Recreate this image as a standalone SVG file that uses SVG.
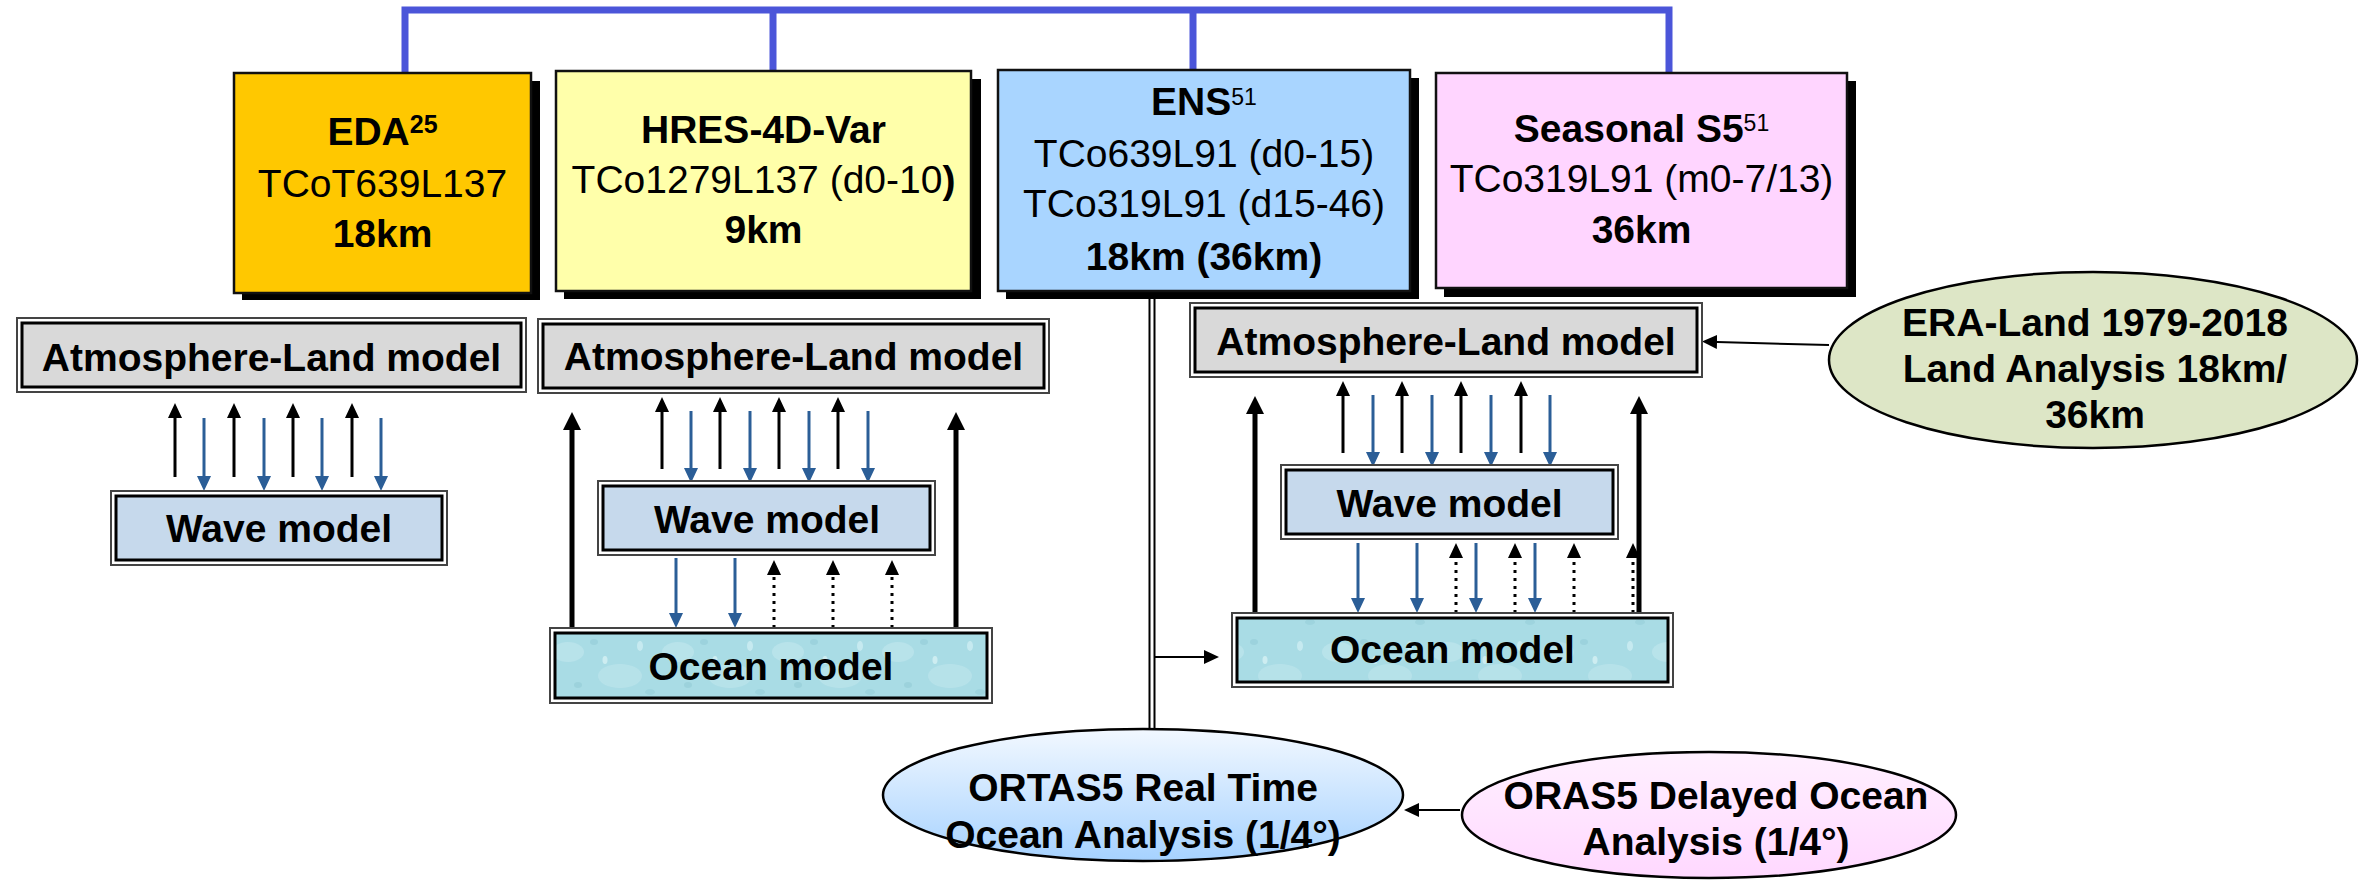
<svg xmlns="http://www.w3.org/2000/svg" width="2365" height="883" viewBox="0 0 2365 883">
<style>
text{font-family:"Liberation Sans",Arial,Helvetica,sans-serif;font-size:39px;fill:#000;text-anchor:middle}
.b{font-weight:bold}
.shadow{fill:#000}
.top{stroke:#111;stroke-width:2.5}
.outer{fill:#fff;stroke:#444;stroke-width:2}
.inner{stroke:#000;stroke-width:3}
.atm{fill:#D9D9D9}
.wave{fill:#C6D9EC}
.ocean{fill:url(#water)}
.k{stroke:#000;stroke-width:3;fill:none}
.bl{stroke:#2B5E97;stroke-width:3;fill:none}
.dot{stroke:#000;stroke-width:3;stroke-dasharray:3 5;fill:none}
.big{stroke:#000;stroke-width:5;fill:none}
.thin{stroke:#000;stroke-width:2;fill:none}
.brk{stroke:#4B55D9;stroke-width:7;fill:none}
.ell{stroke:#000;stroke-width:2.5}
.sup{font-size:23px;font-weight:normal}
</style>
<defs>
<marker id="hk" markerUnits="userSpaceOnUse" markerWidth="16" markerHeight="16" viewBox="0 -8 16 16" refX="0" refY="0" orient="auto"><path d="M0,-7 L15,0 L0,7 z" fill="#000"/></marker>
<marker id="hb" markerUnits="userSpaceOnUse" markerWidth="16" markerHeight="16" viewBox="0 -8 16 16" refX="0" refY="0" orient="auto"><path d="M0,-7 L15,0 L0,7 z" fill="#2B5E97"/></marker>
<marker id="hbig" markerUnits="userSpaceOnUse" markerWidth="20" markerHeight="20" viewBox="0 -10 20 20" refX="0" refY="0" orient="auto"><path d="M0,-9 L18,0 L0,9 z" fill="#000"/></marker>
<marker id="ht" markerUnits="userSpaceOnUse" markerWidth="16" markerHeight="16" viewBox="0 -8 16 16" refX="0" refY="0" orient="auto"><path d="M0,-7 L15,0 L0,7 z" fill="#000"/></marker>
<pattern id="water" patternUnits="userSpaceOnUse" width="110" height="70">
<rect width="110" height="70" fill="#A9DCE5"/>
<ellipse cx="18" cy="22" rx="16" ry="10" fill="#BFE6ED" opacity="0.7"/>
<ellipse cx="70" cy="46" rx="22" ry="12" fill="#BCE5EC" opacity="0.7"/>
<ellipse cx="44" cy="12" rx="4" ry="3" fill="#92CCD7" opacity="0.6"/>
<ellipse cx="90" cy="16" rx="3" ry="5" fill="#CDEEF2" opacity="0.8"/>
<ellipse cx="28" cy="55" rx="4" ry="3" fill="#93CBD6" opacity="0.6"/>
<ellipse cx="55" cy="30" rx="2.5" ry="4" fill="#D6F1F4" opacity="0.8"/>
<ellipse cx="100" cy="62" rx="5" ry="3" fill="#96CED8" opacity="0.6"/>
</pattern>
<linearGradient id="gOrtas" x1="0" y1="0" x2="0" y2="1"><stop offset="0" stop-color="#F2F8FF"/><stop offset="1" stop-color="#A6D2FF"/></linearGradient>
<linearGradient id="gOras" x1="0" y1="0" x2="0" y2="1"><stop offset="0" stop-color="#FFF0FF"/><stop offset="1" stop-color="#FFD8FF"/></linearGradient>
</defs>

<g id="connectors">
<path class="brk" d="M405,76 V10 H1669 V73 M773,10 V73 M1193,10 V73"/>
<line class="thin" x1="1149.5" y1="299" x2="1149.5" y2="733"/>
<line class="thin" x1="1154.5" y1="299" x2="1154.5" y2="733"/>
<line class="thin" x1="1155" y1="657" x2="1204" y2="657" marker-end="url(#ht)"/>
<line class="thin" x1="1829" y1="345" x2="1717" y2="342" marker-end="url(#ht)"/>
<line class="thin" x1="1460" y1="810" x2="1419" y2="810" marker-end="url(#ht)"/>
<!-- left section -->
<line class="k" x1="175" y1="477" x2="175" y2="418" marker-end="url(#hk)"/>
<line class="k" x1="234" y1="477" x2="234" y2="418" marker-end="url(#hk)"/>
<line class="k" x1="293" y1="477" x2="293" y2="418" marker-end="url(#hk)"/>
<line class="k" x1="352" y1="477" x2="352" y2="418" marker-end="url(#hk)"/>
<line class="bl" x1="204" y1="418" x2="204" y2="476" marker-end="url(#hb)"/>
<line class="bl" x1="264" y1="418" x2="264" y2="476" marker-end="url(#hb)"/>
<line class="bl" x1="322" y1="418" x2="322" y2="476" marker-end="url(#hb)"/>
<line class="bl" x1="381" y1="418" x2="381" y2="476" marker-end="url(#hb)"/>
<!-- middle section -->
<line class="big" x1="572" y1="630" x2="572" y2="430" marker-end="url(#hbig)"/>
<line class="big" x1="956" y1="630" x2="956" y2="430" marker-end="url(#hbig)"/>
<line class="k" x1="662" y1="469" x2="662" y2="412" marker-end="url(#hk)"/>
<line class="k" x1="720" y1="469" x2="720" y2="412" marker-end="url(#hk)"/>
<line class="k" x1="779" y1="469" x2="779" y2="412" marker-end="url(#hk)"/>
<line class="k" x1="838" y1="469" x2="838" y2="412" marker-end="url(#hk)"/>
<line class="bl" x1="691" y1="411" x2="691" y2="468" marker-end="url(#hb)"/>
<line class="bl" x1="750" y1="411" x2="750" y2="468" marker-end="url(#hb)"/>
<line class="bl" x1="809" y1="411" x2="809" y2="468" marker-end="url(#hb)"/>
<line class="bl" x1="868" y1="411" x2="868" y2="468" marker-end="url(#hb)"/>
<line class="bl" x1="676" y1="558" x2="676" y2="613" marker-end="url(#hb)"/>
<line class="bl" x1="735" y1="558" x2="735" y2="613" marker-end="url(#hb)"/>
<line class="dot" x1="774" y1="628" x2="774" y2="575" marker-end="url(#hk)"/>
<line class="dot" x1="833" y1="628" x2="833" y2="575" marker-end="url(#hk)"/>
<line class="dot" x1="892" y1="628" x2="892" y2="575" marker-end="url(#hk)"/>
<!-- right section -->
<line class="big" x1="1255" y1="615" x2="1255" y2="414" marker-end="url(#hbig)"/>
<line class="big" x1="1639" y1="615" x2="1639" y2="414" marker-end="url(#hbig)"/>
<line class="k" x1="1343" y1="453" x2="1343" y2="396" marker-end="url(#hk)"/>
<line class="k" x1="1402" y1="453" x2="1402" y2="396" marker-end="url(#hk)"/>
<line class="k" x1="1461" y1="453" x2="1461" y2="396" marker-end="url(#hk)"/>
<line class="k" x1="1521" y1="453" x2="1521" y2="396" marker-end="url(#hk)"/>
<line class="bl" x1="1373" y1="395" x2="1373" y2="452" marker-end="url(#hb)"/>
<line class="bl" x1="1432" y1="395" x2="1432" y2="452" marker-end="url(#hb)"/>
<line class="bl" x1="1491" y1="395" x2="1491" y2="452" marker-end="url(#hb)"/>
<line class="bl" x1="1550" y1="395" x2="1550" y2="452" marker-end="url(#hb)"/>
<line class="bl" x1="1358" y1="543" x2="1358" y2="598" marker-end="url(#hb)"/>
<line class="bl" x1="1417" y1="543" x2="1417" y2="598" marker-end="url(#hb)"/>
<line class="bl" x1="1476" y1="543" x2="1476" y2="598" marker-end="url(#hb)"/>
<line class="bl" x1="1535" y1="543" x2="1535" y2="598" marker-end="url(#hb)"/>
<line class="dot" x1="1456" y1="613" x2="1456" y2="558" marker-end="url(#hk)"/>
<line class="dot" x1="1515" y1="613" x2="1515" y2="558" marker-end="url(#hk)"/>
<line class="dot" x1="1574" y1="613" x2="1574" y2="558" marker-end="url(#hk)"/>
<line class="dot" x1="1633" y1="613" x2="1633" y2="558" marker-end="url(#hk)"/>
</g>

<g id="eda">
<rect class="shadow" x="242" y="81" width="298" height="219"/>
<rect class="top" x="234" y="73" width="297" height="220" fill="#FFC800"/>
<text x="382.5" y="145" class="b">EDA<tspan font-size="25" dy="-12">25</tspan></text>
<text x="382.5" y="197">TCoT639L137</text>
<text x="382.5" y="247" class="b">18km</text>
</g>
<g id="hres">
<rect class="shadow" x="564" y="79" width="417" height="220"/>
<rect class="top" x="556" y="71" width="415" height="220" fill="#FFFFAA"/>
<text x="763.5" y="143" class="b" font-size="40">HRES-4D-Var</text>
<text x="763.5" y="193">TCo1279L137 (d0-10<tspan class="b">)</tspan></text>
<text x="763.5" y="243" class="b">9km</text>
</g>
<g id="ens">
<rect class="shadow" x="1006" y="78" width="413" height="221"/>
<rect class="top" x="998" y="70" width="412" height="221" fill="#A9D5FF"/>
<text x="1204" y="115" class="b">ENS<tspan class="sup" dy="-10">51</tspan></text>
<text x="1204" y="167">TCo639L91 (d0-15)</text>
<text x="1204" y="217">TCo319L91 (d15-46)</text>
<text x="1204" y="270" class="b">18km (36km)</text>
</g>
<g id="seasonal">
<rect class="shadow" x="1444" y="81" width="412" height="216"/>
<rect class="top" x="1436" y="73" width="411" height="215" fill="#FFD5FF"/>
<text x="1641.5" y="142" class="b">Seasonal S5<tspan class="sup" dy="-11">51</tspan></text>
<text x="1641.5" y="192">TCo319L91 (m0-7/13)</text>
<text x="1641.5" y="243" class="b">36km</text>
</g>

<g id="atm-left">
<rect class="outer" x="17" y="318" width="509" height="74"/>
<rect class="inner atm" x="22" y="323" width="499" height="64"/>
<text x="271.5" y="371" class="b" font-size="40">Atmosphere-Land model</text>
</g>
<g id="wave-left">
<rect class="outer" x="111" y="491" width="336" height="74"/>
<rect class="inner wave" x="116" y="496" width="326" height="64"/>
<text x="279" y="542" class="b">Wave model</text>
</g>

<g id="atm-mid">
<rect class="outer" x="538" y="319" width="511" height="74"/>
<rect class="inner atm" x="543" y="324" width="501" height="64"/>
<text x="793.5" y="370" class="b" font-size="40">Atmosphere-Land model</text>
</g>
<g id="wave-mid">
<rect class="outer" x="598" y="481" width="337" height="74"/>
<rect class="inner wave" x="603" y="486" width="327" height="64"/>
<text x="767" y="533" class="b">Wave model</text>
</g>
<g id="ocean-mid">
<rect class="outer" x="550" y="628" width="442" height="75"/>
<rect class="inner ocean" x="555" y="633" width="432" height="65"/>
<text x="771" y="680" class="b">Ocean model</text>
</g>

<g id="atm-right">
<rect class="outer" x="1190" y="303" width="512" height="74"/>
<rect class="inner atm" x="1195" y="308" width="502" height="64"/>
<text x="1446" y="355" class="b" font-size="40">Atmosphere-Land model</text>
</g>
<g id="wave-right">
<rect class="outer" x="1281" y="465" width="337" height="74"/>
<rect class="inner wave" x="1286" y="470" width="327" height="64"/>
<text x="1449.5" y="517" class="b">Wave model</text>
</g>
<g id="ocean-right">
<rect class="outer" x="1232" y="613" width="441" height="74"/>
<rect class="inner ocean" x="1237" y="618" width="431" height="64"/>
<text x="1452.5" y="663" class="b">Ocean model</text>
</g>

<g id="era-land">
<ellipse class="ell" cx="2093" cy="360" rx="264" ry="88" fill="#DDE6C6"/>
<text x="2095" y="336" class="b">ERA-Land 1979-2018</text>
<text x="2095" y="382" class="b">Land Analysis 18km/</text>
<text x="2095" y="428" class="b">36km</text>
</g>
<g id="ortas5">
<ellipse class="ell" cx="1143" cy="795" rx="260" ry="66" fill="url(#gOrtas)"/>
<text x="1143" y="801" class="b">ORTAS5 Real Time</text>
<text x="1143" y="848" class="b">Ocean Analysis (1/4°)</text>
</g>
<g id="oras5">
<ellipse class="ell" cx="1709" cy="815" rx="247" ry="63" fill="url(#gOras)"/>
<text x="1716" y="809" class="b">ORAS5 Delayed Ocean</text>
<text x="1716" y="855" class="b">Analysis (1/4°)</text>
</g>
</svg>
